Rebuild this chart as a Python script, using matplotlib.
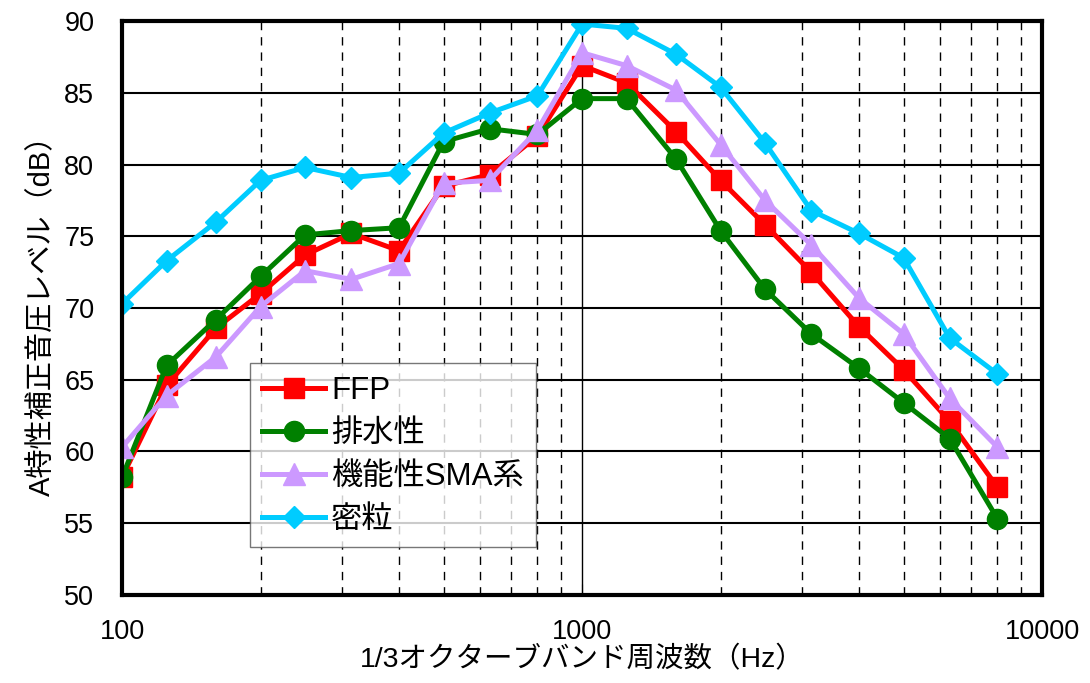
import matplotlib
matplotlib.use("Agg")
import matplotlib.pyplot as plt
from matplotlib.ticker import LogLocator, NullFormatter, FixedLocator

plt.rcParams['font.family'] = ['Liberation Sans', 'Noto Sans CJK JP']

freqs = [100, 125, 160, 200, 250, 315, 400, 500, 630, 800, 1000, 1250,
         1600, 2000, 2500, 3150, 4000, 5000, 6300, 8000]

ffp = [58.2, 64.6, 68.6, 71.0, 73.7, 75.2, 74.0, 78.5, 79.3, 82.0, 86.9, 85.7,
       82.3, 78.9, 75.8, 72.5, 68.7, 65.7, 62.1, 57.5]
haisui = [58.2, 66.0, 69.2, 72.2, 75.1, 75.4, 75.6, 81.6, 82.5, 82.1, 84.6, 84.6,
          80.4, 75.4, 71.3, 68.2, 65.8, 63.4, 60.9, 55.3]
sma = [60.3, 63.9, 66.6, 70.1, 72.6, 72.0, 73.1, 78.7, 78.9, 82.4, 87.8, 86.9,
       85.2, 81.4, 77.5, 74.4, 70.7, 68.2, 63.7, 60.3]
mitsuryu = [70.3, 73.3, 76.0, 78.9, 79.8, 79.1, 79.4, 82.2, 83.6, 84.8, 89.8, 89.5,
            87.7, 85.4, 81.5, 76.8, 75.2, 73.5, 67.9, 65.4]

labels = ['FFP', '排水性', '機能性SMA系', '密粒']

fig = plt.figure(figsize=(10.9, 6.83), dpi=100)
ax = fig.add_axes([0.112, 0.129, 0.844, 0.840])

ax.plot(freqs, ffp, color='#FF0000', lw=3.6, marker='s', ms=14, label=labels[0])
ax.plot(freqs, haisui, color='#008000', lw=3.6, marker='o', ms=14.5, label=labels[1])
ax.plot(freqs, sma, color='#CC99FF', lw=3.6, marker='^', ms=16, label=labels[2])
ax.plot(freqs, mitsuryu, color='#00CCFF', lw=3.6, marker='D', ms=11.5, label=labels[3])

ax.set_xscale('log')
ax.set_xlim(100, 10000)
ax.set_ylim(50, 90)
ax.set_yticks(range(50, 91, 5))
ax.xaxis.set_major_locator(FixedLocator([100, 1000, 10000]))
ax.set_xticklabels(['100', '1000', '10000'])
ax.xaxis.set_minor_locator(LogLocator(base=10, subs=range(2, 10)))
ax.xaxis.set_minor_formatter(NullFormatter())

ax.grid(which='major', axis='y', color='black', lw=1.5)
ax.grid(which='major', axis='x', color='black', lw=1.0)
ax.grid(which='minor', axis='x', color='black', lw=1.0, ls=(0, (6, 5)))
ax.set_axisbelow(True)

for s in ax.spines.values():
    s.set_linewidth(3)
ax.tick_params(axis='both', which='both', direction='in', labelsize=19.5)
ax.tick_params(axis='x', which='major', length=8, pad=17)
ax.tick_params(axis='x', which='minor', length=5)
ax.tick_params(axis='y', length=0, pad=20)

ax.set_xlabel('1/3オクターブバンド周波数（Hz）', fontsize=20.5, labelpad=1)
ax.set_ylabel('A特性補正音圧レベル（dB）', fontsize=21, labelpad=6)

leg = ax.legend(loc='upper left', bbox_to_anchor=(0.139, 0.404), fontsize=22.5,
                frameon=True, fancybox=False, edgecolor='#555555',
                handlelength=2.0, borderpad=0.4, labelspacing=0.42,
                handletextpad=0.2, borderaxespad=0, markerscale=1.0)
leg.get_frame().set_linewidth(1.0)

fig.savefig('out.png', dpi=100)
